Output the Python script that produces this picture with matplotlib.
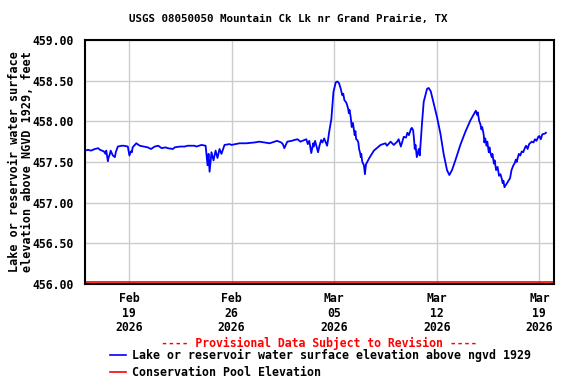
import matplotlib
matplotlib.use('Agg')
import matplotlib.pyplot as plt
import matplotlib.dates as mdates
from matplotlib.lines import Line2D
import pandas as pd

start = pd.Timestamp('2026-02-16')

# days after Feb 16 2026 00:00 and lake elevation (ft)
days = [0.00, 0.20, 0.40, 0.68, 0.90, 1.02, 1.29, 1.40, 1.45, 1.56,
        1.60, 1.70, 1.75, 1.90, 2.04, 2.10, 2.24, 2.50, 2.65, 2.92,
        3.03, 3.13, 3.20, 3.25, 3.40, 3.50, 3.74, 4.00, 4.28, 4.50,
        4.76, 5.00, 5.23, 5.50, 5.64, 6.00, 6.12, 6.50, 6.80, 7.00,
        7.48, 7.60, 7.95, 8.23, 8.36, 8.43, 8.50, 8.63, 8.77, 8.91,
        9.04, 9.18, 9.31, 9.52, 9.86, 10.00, 10.54, 11.00, 11.56, 11.90,
        12.24, 12.60, 12.92, 13.10, 13.39, 13.50, 13.60, 13.80, 14.10, 14.28,
        14.50, 14.70, 14.96, 15.10, 15.20, 15.30, 15.44, 15.57, 15.60, 15.70,
        15.84, 15.90, 16.00, 16.11, 16.20, 16.32, 16.52, 16.59, 16.66, 16.81,
        16.95, 17.11, 17.22, 17.33, 17.45, 17.50, 17.56, 17.62, 17.70, 17.79,
        17.85, 17.95, 18.00, 18.05, 18.13, 18.20, 18.28, 18.35, 18.40, 18.45,
        18.50, 18.58, 18.65, 18.70, 18.76, 18.82, 18.85, 18.92, 19.03, 19.10,
        19.17, 19.37, 19.71, 20.17, 20.50, 20.60, 20.85, 21.07, 21.30, 21.40,
        21.55, 21.75, 21.90, 22.00, 22.10, 22.25, 22.30, 22.39, 22.45, 22.50,
        22.55, 22.64, 22.77, 22.84, 23.00, 23.11, 23.34, 23.45, 23.59, 23.79,
        24.02, 24.25, 24.47, 24.70, 24.86, 25.04, 25.27, 25.61, 25.95, 26.29,
        26.63, 26.67, 26.75, 26.80, 26.90, 26.97, 27.05, 27.10, 27.20, 27.25,
        27.31, 27.40, 27.45, 27.55, 27.60, 27.65, 27.75, 27.80, 27.90, 27.95,
        28.05, 28.10, 28.15, 28.25, 28.35, 28.44, 28.50, 28.55, 28.62, 28.89,
        29.00, 29.10, 29.23, 29.30, 29.40, 29.45, 29.57, 29.60, 29.70, 29.80,
        29.90, 30.03, 30.10, 30.20, 30.30, 30.48, 30.60, 30.70, 30.80, 30.93,
        31.00, 31.10, 31.20, 31.39, 31.45]
elev = [457.64, 457.65, 457.64, 457.66, 457.67, 457.65, 457.63, 457.60, 457.64, 457.51,
        457.55, 457.60, 457.64, 457.58, 457.56, 457.62, 457.69, 457.70, 457.70, 457.69,
        457.58, 457.63, 457.62, 457.68, 457.71, 457.73, 457.70, 457.69, 457.68, 457.66,
        457.69, 457.70, 457.67, 457.68, 457.67, 457.66, 457.68, 457.69, 457.69, 457.70,
        457.70, 457.69, 457.71, 457.70, 457.46, 457.60, 457.38, 457.62, 457.52, 457.64,
        457.55, 457.66, 457.60, 457.71, 457.72, 457.71, 457.73, 457.73, 457.74, 457.75,
        457.74, 457.73, 457.75, 457.76, 457.74, 457.72, 457.67, 457.75, 457.76, 457.77,
        457.78, 457.75, 457.77, 457.78, 457.72, 457.76, 457.61, 457.73, 457.69, 457.76,
        457.66, 457.62, 457.70, 457.77, 457.74, 457.79, 457.70, 457.78, 457.87, 458.03,
        458.36, 458.48, 458.49, 458.47, 458.40, 458.36, 458.32, 458.34, 458.26, 458.24,
        458.22, 458.16, 458.10, 458.14, 458.05, 457.93, 457.98, 457.89, 457.83, 457.88,
        457.78, 457.77, 457.74, 457.66, 457.62, 457.56, 457.60, 457.50, 457.46, 457.35,
        457.47, 457.54, 457.64, 457.71, 457.73, 457.70, 457.75, 457.71, 457.75, 457.78,
        457.69, 457.81, 457.80, 457.86, 457.83, 457.91, 457.92, 457.89, 457.78, 457.66,
        457.71, 457.56, 457.66, 457.58, 457.99, 458.24, 458.40, 458.41, 458.37, 458.22,
        458.05, 457.85, 457.60, 457.40, 457.34, 457.40, 457.52, 457.71, 457.87, 458.01,
        458.12, 458.13, 458.08, 458.11, 458.00, 457.97, 457.90, 457.93, 457.84, 457.74,
        457.79, 457.70, 457.75, 457.62, 457.68, 457.62, 457.56, 457.60, 457.48, 457.52,
        457.40, 457.42, 457.44, 457.33, 457.35, 457.29, 457.24, 457.27, 457.19, 457.27,
        457.30, 457.40, 457.46, 457.48, 457.53, 457.50, 457.58, 457.60, 457.58, 457.63,
        457.62, 457.68, 457.70, 457.66, 457.72, 457.75, 457.74, 457.78, 457.76, 457.81,
        457.82, 457.78, 457.84, 457.85, 457.86]

pool_elev = 456.02
x_range = ['2026-02-16', '2026-03-20']
y_ticks = [456.0, 456.5, 457.0, 457.5, 458.0, 458.5, 459.0]

title = 'USGS 08050050 Mountain Ck Lk nr Grand Prairie, TX'
ylabel = 'Lake or reservoir water surface\nelevation above NGVD 1929, feet'
series_labels = ['Lake or reservoir water surface elevation above ngvd 1929',
                 'Conservation Pool Elevation']

plt.rcParams['font.family'] = ['DejaVu Sans Mono']
plt.rcParams['font.weight'] = 'bold'
fs = 8.3

fig = plt.figure(figsize=(5.76, 3.84), dpi=100)
ax = fig.add_axes([85/576, 1 - 284/384, (554 - 85)/576, (284 - 40)/384])

t = [start + pd.Timedelta(days=d) for d in days]
ax.plot(t, elev, color='#0000ff', lw=1.3)
ax.axhline(pool_elev, color='#ff0000', lw=1.2)

ax.set_xlim(pd.Timestamp(x_range[0]), pd.Timestamp(x_range[1]))
ax.set_ylim(456.0, 459.0)
ax.set_yticks(y_ticks)
ax.yaxis.set_major_formatter(plt.FormatStrFormatter('%.2f'))
ax.xaxis.set_major_locator(mdates.WeekdayLocator(byweekday=mdates.TH))
ax.xaxis.set_major_formatter(mdates.DateFormatter('%b\n%d\n%Y'))
ax.tick_params(length=0, labelsize=fs)
ax.tick_params(axis='y', pad=8)
ax.tick_params(axis='x', pad=6)
for lbl in ax.get_xticklabels():
    lbl.set_linespacing(1.15)

ax.grid(True, color='#cccccc', lw=1.0)
ax.set_axisbelow(True)
for s in ax.spines.values():
    s.set_linewidth(1.5)
    s.set_color('black')

fig.text(0.5, 1 - 19/384, title, ha='center', va='center', fontsize=7.8)
fig.text(21/576, 1 - 162/384, ylabel, rotation=90, ha='center', va='center',
         fontsize=8.5, linespacing=1.0)
fig.text(319/576, 1 - 343/384, '---- Provisional Data Subject to Revision ----',
         ha='center', va='center', fontsize=fs, color='#ff0000')

handles = [Line2D([], [], color='#0000ff', lw=1.2),
           Line2D([], [], color='#ff0000', lw=1.2)]
fig.legend(handles, series_labels, loc='upper left',
           bbox_to_anchor=(110/576, 1 - 349/384), frameon=False,
           borderaxespad=0, borderpad=0, handlelength=1.4, handletextpad=0.5,
           labelspacing=0.3, prop={'size': 8.4, 'weight': 'bold'})

fig.savefig('out.png', dpi=100)
